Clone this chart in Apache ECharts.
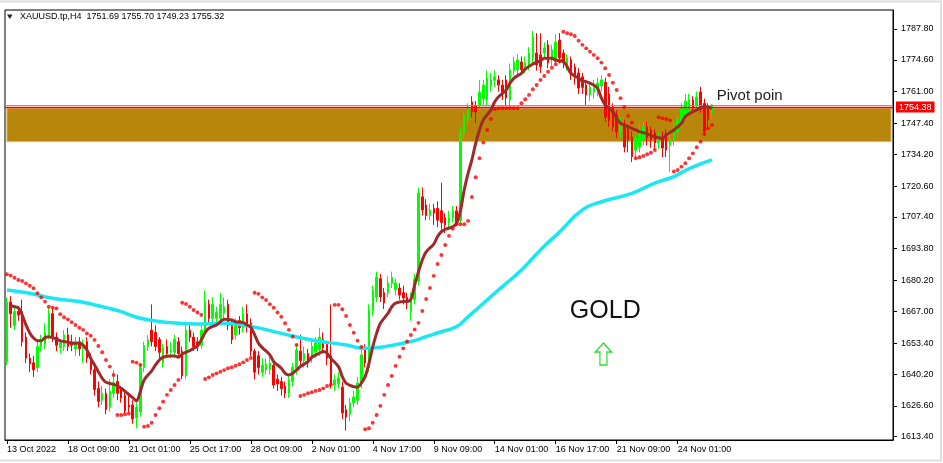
<!DOCTYPE html>
<html>
<head>
<meta charset="utf-8">
<script src="https://cdn.jsdelivr.net/npm/echarts/dist/echarts.min.js"></script>
<style>html,body{margin:0;padding:0;background:#fff;}#chart{width:943px;height:463px;}</style>
</head>
<body>
<div id="chart"></div>
<script>
// ---------- DATA ----------
const SYMBOL_TITLE = 'XAUUSD.tp,H4  1751.69 1755.70 1749.23 1755.32';
const FIRST_LABEL = '13 Oct 2022';
const Y_TICKS = [1613.40,1626.60,1640.20,1653.40,1667.00,1680.20,1693.80,1707.40,1720.60,1734.20,1747.40,1761.00,1774.60,1787.80];

const opens = [1645.5,1671,1661,1667,1667,1656,1647,1645,1643,1652,
1653,1657,1666,1656,1651.5,1652,1657,1654,1651,1654,
1651,1654,1647,1642,1634,1629,1632,1626,1632,1637,
1634,1631,1627,1627,1621.5,1624,1643,1652,1659,1658,
1655,1645,1652,1649.5,1649.5,1654,1650,1639.5,1659,1656,
1654,1652.5,1658,1670,1664,1664,1664,1666,1670,1661,
1657,1663,1660,1666,1662,1650,1648,1641,1642,1642,
1644,1638,1637,1635,1632,1637,1642,1650,1646,1649,
1647,1649.5,1650.5,1655,1653,1648,1635.5,1636,1634.6,1625,
1623,1627.8,1629,1636,1651.8,1643,1667,1673,1681,1675,
1674.9,1679,1676.2,1677,1675,1673,1667,1672,1680,1716,
1712.5,1708,1711,1711,1710,1707,1704.8,1707,1710,1706,
1743,1749,1756.6,1755,1755.2,1758,1757.4,1763.5,1765.8,1766,
1763.8,1766,1757.4,1770,1770.3,1773.7,1771.6,1771.6,1775.4,1777.5,
1776.7,1777.5,1781,1774.5,1773.7,1783,1777.5,1772.4,1774.5,1771.5,
1769,1767.3,1763.8,1759.6,1760.8,1761.7,1763.4,1765,1760,1754.4,
1751,1743.8,1746.8,1745,1741.6,1735.8,1737.3,1740.3,1745.9,1744.6,
1743.3,1739,1741.6,1742.5,1738,1740.3,1743.8,1748,1751,1753.2,
1757.4,1755.3,1760.8,1756,1754,1751.69];

const closes = [1671,1666,1667,1665.5,1654,1647,1644.5,1642,1652,1655,
1658,1666,1656,1652.5,1653.5,1657,1652,1652.5,1654,1651,
1653,1647,1642,1633.5,1628.5,1632,1625,1633,1636.5,1632,
1630,1624.5,1626,1621,1626,1643,1652.5,1655,1654,1652,
1649.5,1651.5,1649,1650.5,1655,1649,1639.5,1659,1656,1652,
1652.5,1659,1671,1664,1670,1666.5,1670,1669,1661,1655,
1662,1660,1666,1661,1650,1641,1643,1644,1644.5,1645,
1635.5,1636,1634,1632,1637.5,1643,1650.5,1646,1649,1645,
1652,1653.5,1656,1651.5,1647,1636,1637.7,1638.5,1623.6,1621.8,
1627.8,1630.4,1636.4,1648.4,1645,1667.6,1676,1681.7,1673.2,1670.6,
1679.2,1681.6,1679.2,1674,1672.7,1670.6,1672.6,1680.8,1717.7,1710.4,
1708,1710.4,1709,1706,1705,1704,1707,1710,1705,1743.7,
1751,1754,1752.3,1752.3,1760.8,1763.8,1766.8,1766,1767.3,1763.8,
1760.8,1758.3,1770.3,1773.7,1774.5,1770.3,1773.3,1777.5,1784.4,1772.4,
1771.6,1779.7,1773.3,1778.8,1782.2,1775.4,1773.7,1775.4,1768.1,1766.8,
1762.5,1762.8,1759.6,1763,1763.8,1764.7,1766,1750,1748.5,1745.9,
1743.8,1747.6,1737.3,1740.3,1733.2,1741.6,1744.6,1745.9,1741.2,1740.3,
1739,1741.6,1736.9,1736,1740.5,1745.9,1748.9,1754,1757,1757.4,
1754,1758.7,1754.4,1744,1749,1755.32];

const lows = [1644,1660,1659,1663,1652,1645,1641,1639,1641,1650,
1651,1655,1654,1650,1649,1650,1650,1650,1648,1648,
1645,1645,1640,1631,1626,1627,1623,1624,1630,1629,
1628,1623.5,1623.8,1619,1617,1622,1641,1650,1652,1650,
1647,1643,1647,1647,1648,1647,1638,1638,1654,1650,
1650,1651,1656,1662,1662,1662,1663,1663,1659,1653,
1655,1657,1658,1658,1648,1638,1640,1639,1640,1640,
1634,1633,1631,1630,1630,1635,1640,1644,1643,1643,
1645,1647,1648,1649,1644,1634,1633,1634,1621,1616,
1620,1626,1627,1634,1643,1641,1665,1671,1671,1668,
1673,1677,1674,1672,1670,1668,1663,1670,1678,1708,
1706,1706,1704,1703,1702,1700.5,1702,1705,1704.5,1704.5,
1741,1747,1750,1747.5,1753,1755,1755,1761,1763,1761,
1757.4,1755,1754.5,1768,1768,1768,1769,1770,1773,1770,
1769,1775,1771,1772,1773,1773,1771,1770,1766,1764,
1760,1760,1755,1757,1758,1759,1761,1748,1746,1744,
1741,1741,1735,1735,1730.9,1733,1735,1738,1738,1737,
1736.5,1736.5,1733,1733,1726.6,1738,1741,1746,1749,1751,
1752,1753,1752,1742,1745.5,1749.23];

const highs = [1673,1673.5,1669,1669,1672,1658,1649,1648,1654,1657,
1662,1668.5,1668,1658,1655,1659,1660,1657,1656,1656,
1655,1656,1649,1644,1637,1635,1634,1638,1642,1640,
1635,1633,1631,1629,1628,1645,1654,1657,1670,1661,
1656,1653,1655,1654,1657,1656,1652,1662,1661,1658,
1656,1661,1676,1672,1673,1669,1675,1673,1672,1663,
1664,1665,1669,1670,1664,1651,1650,1647,1647,1648,
1646,1640,1639,1637,1640,1645,1653,1657,1652,1651,
1655,1656,1660,1658,1654,1670,1640,1641,1637,1627,
1630,1633,1639,1651,1653,1670,1678,1684,1683,1677,
1682,1684,1681,1679,1678,1675,1675,1683,1720,1720,
1715,1713,1713,1714,1722,1709,1710,1712,1712,1746,
1753,1756,1759,1757,1766,1766,1770,1769,1770,1768,
1766,1768,1773,1776,1777,1776,1776,1780,1787,1786,
1786,1782,1783,1781,1785.5,1786,1779,1777,1776,1773,
1771,1769,1766,1765,1766,1767,1768,1767,1763,1756,
1753,1750,1749,1747,1744,1744,1747,1748,1748,1746,
1745,1744,1744,1745,1743,1748,1751,1756,1760,1760,
1759,1761,1763,1758,1756,1755.70];

// Parabolic SAR dots, one per bar
const sarValues = [1682.9,1682.3,1681.4,1680.4,1680.0,1679.0,1678.0,1676.9,1674.8,1673.0,
1671.2,1669.0,1668.6,1668.3,1665.8,1664.5,1663.6,1662.4,1661.2,1660.0,
1659.1,1657.6,1656.6,1654.8,1652.2,1649.5,1646.2,1643.4,1639.8,1622.7,
1622.7,1623.0,1623.3,1645.5,1645.1,1644.1,1617.7,1618.0,1619.4,1622.7,
1625.6,1628.4,1631.3,1633.4,1635.5,1637.7,1670.7,1670.2,1669.0,1667.6,
1666.5,1665.5,1638.1,1638.8,1639.8,1640.5,1641.2,1641.9,1642.7,1643.1,
1643.8,1644.4,1645.2,1646.2,1647.1,1675.0,1674.5,1673.0,1671.9,1670.1,
1668.6,1666.5,1664.7,1661.9,1659.1,1656.2,1652.6,1630.8,1631.3,1632.0,
1632.4,1633.0,1633.4,1634.1,1635.1,1635.6,1669.8,1669.8,1667.9,1665.0,
1661.2,1657.9,1654.5,1651.8,1616.6,1617.0,1619.4,1622.7,1626.6,1631.3,
1635.5,1639.4,1643.7,1647.6,1651.2,1654.1,1656.9,1659.3,1662.1,1667.2,
1672.3,1677.0,1682.2,1687.3,1691.1,1695.4,1699.3,1702.3,1704.3,1704.3,
1704.3,1705.7,1715.9,1724.4,1732.5,1739.2,1744.6,1749.3,1753.5,1753.9,
1753.9,1753.9,1753.9,1753.9,1753.9,1756.0,1757.7,1759.6,1762.0,1763.8,
1766.0,1767.7,1769.5,1771.2,1772.7,1774.1,1786.6,1786.0,1785.5,1784.8,
1782.8,1781.0,1779.5,1778.1,1776.7,1775.3,1773.4,1771.0,1768.1,1764.8,
1761.7,1758.2,1754.3,1750.6,1747.7,1732.5,1732.9,1733.5,1734.2,1734.9,
1736.0,1750.0,1749.6,1749.3,1748.7,1726.8,1727.5,1728.9,1730.4,1732.5,
1734.6,1737.2,1739.6,1742.9,1745.3,1746.7];

// Fast moving average (brown), read at bar index
const maFastIdx = [1,2,3,4,5,6,7,8,9,10,11,13,14,15,16,17,19,20,21,22,23,24,25,26,28,29,30,31,33,34,35,36,38,39,40,41,43,44,45,46,48,49,50,51,52,53,55,56,57,59,60,62,63,64,65,66,67,69,70,72,73,74,76,77,79,80,82,83,84,85,87,88,89,91,92,93,94,95,96,97,98,100,101,102,104,105,106,107,108,109,110,112,113,114,115,117,118,119,120,121,122,123,124,125,127,128,129,131,132,133,135,136,138,140,141,143,144,146,147,148,150,151,152,154,155,156,157,159,160,161,163,164,166,168,170,172,173,175,177,178,180,182,183,185];
const maFastVal = [1669.5,1669,1668.5,1665.5,1661.2,1657.8,1655.6,1654.4,1654.4,1655.8,1656.2,1655.2,1654.4,1654.1,1653.8,1653.4,1653.4,1652.6,1650.5,1646.9,1644.1,1641.2,1638.4,1636.7,1635.8,1635.2,1634.1,1632.8,1630.1,1628.7,1632.7,1637.7,1641.6,1644.1,1646.2,1647.4,1647.9,1647.9,1647.4,1648.8,1650.2,1651.2,1652.2,1654.8,1657.9,1659.8,1661.2,1662.6,1663.6,1663.3,1662.6,1662.2,1661.2,1660.3,1657,1653.4,1651.5,1648.4,1645.5,1642.7,1640.5,1639.8,1641.9,1643.4,1645.5,1647.4,1649.1,1649.8,1649.1,1646.9,1643.4,1639.1,1636.3,1634.8,1634.6,1636.3,1639.1,1644.8,1651.9,1657.6,1661.9,1666.2,1669.0,1670.5,1671.2,1671.2,1672.2,1678.3,1684.0,1689.0,1692.5,1695.8,1699.0,1701.1,1702.1,1703.2,1704.7,1710,1719,1726,1731.8,1738.9,1744.6,1748.9,1753.2,1756.7,1758.8,1761.7,1764.6,1766.7,1768.8,1770.6,1772.8,1774.2,1775.3,1775.3,1774.5,1773.8,1771.7,1768.8,1766.7,1765.6,1765.3,1763.8,1762.4,1758.2,1755.3,1752.4,1749.6,1747.5,1746.0,1745.3,1743.9,1742.9,1741.7,1741.0,1742.5,1744.6,1747.5,1750.3,1752.4,1753.9,1754.6,1753.9];

// Slow moving average (cyan), read at bar index
const maSlowIdx = [0,6,12,19,26,30,35,43,50,57,64,72,80,89,94,99,106,110,114,118,121,124,129,135,140,145,151,156,164,170,175,179,185];
const maSlowVal = [1676.2,1674.8,1672.6,1671.2,1668.6,1666.9,1664.1,1662.2,1661.6,1661.9,1660.6,1657.6,1654.8,1652.6,1651.2,1651.9,1654.1,1656.2,1658.3,1660.5,1664.7,1669.0,1676.2,1684.7,1693.3,1701.0,1710.4,1713.9,1717.5,1721.9,1724.6,1728.1,1731.8];

// Horizontal objects
const zoneTop = 1753.9, zoneBottom = 1739.6;
const redLevel = 1754.38;
const bidLevel = 1755.32;
const pivotText = 'Pivot poin';
const goldText = 'GOLD';

// ---------- TIME CATEGORIES (H4 bars, 6 per trading day) ----------
const MONTHS = ['Jan','Feb','Mar','Apr','May','Jun','Jul','Aug','Sep','Oct','Nov','Dec'];
const H4_HOURS = [1,5,9,13,17,21];
const TOTAL_SLOTS = 233;
const times = [];
(function(){
  let d = new Date(Date.UTC(2022, 9, 13));
  let h = 4;
  while (times.length < TOTAL_SLOTS) {
    const dow = d.getUTCDay();
    if (dow !== 0 && dow !== 6) {
      for (; h < 6 && times.length < TOTAL_SLOTS; h++) {
        times.push(d.getUTCDate() + ' ' + MONTHS[d.getUTCMonth()] + ' ' + String(H4_HOURS[h]).padStart(2,'0') + ':00');
      }
    }
    h = 0;
    d = new Date(d.getTime() + 86400000);
  }
})();
const LAST = opens.length - 1;

const candleData = opens.map((o, i) => [o, closes[i], lows[i], highs[i]]);
const sarData = sarValues.map((v, i) => [i, v]);
const fastData = maFastIdx.map((ix, k) => [ix, maFastVal[k]]);
const slowData = maSlowIdx.map((ix, k) => [ix, maSlowVal[k]]);

const FONT = 'Liberation Sans, Arial, sans-serif';
const showLabel = (i) => i % 16 === 0 && i <= LAST;

const chart = echarts.init(document.getElementById('chart'), null, {renderer: 'canvas'});
chart.setOption({
  animation: false,
  backgroundColor: '#fff',
  grid: {left: 5, right: 50, top: 10, bottom: 23, show: true, borderColor: '#000', borderWidth: 1, backgroundColor: '#fff'},
  xAxis: {
    type: 'category', data: times, boundaryGap: true,
    axisLine: {show: true, lineStyle: {color: '#000', width: 1}},
    axisTick: {show: true, alignWithLabel: true, interval: showLabel, length: 4, lineStyle: {color: '#000'}},
    axisLabel: {interval: showLabel, formatter: (v, i) => i === 0 ? FIRST_LABEL : v,
      align: 'left', margin: 5, fontSize: 9, color: '#000', fontFamily: FONT},
    splitLine: {show: false}
  },
  yAxis: {
    type: 'value', position: 'right', min: 1612.0, max: 1795.9, scale: true,
    axisLine: {show: true, lineStyle: {color: '#000', width: 1}},
    axisTick: {show: true, length: 4, customValues: Y_TICKS, lineStyle: {color: '#000'}},
    axisLabel: {customValues: Y_TICKS, formatter: (v) => v.toFixed(2), margin: 8, fontSize: 9, color: '#000', fontFamily: FONT},
    splitLine: {show: false}
  },
  graphic: [
    {type: 'rect', silent: true, z: -10, shape: {x: -2, y: 1.5, width: 943, height: 459}, style: {fill: 'none', stroke: '#dedede', lineWidth: 2}},
    {type: 'polygon', silent: true, shape: {points: [[7, 14.5], [12.5, 14.5], [9.75, 19]]}, style: {fill: '#222'}},
    {type: 'text', silent: true, left: 20, top: 12, style: {text: SYMBOL_TITLE, font: '9px ' + FONT, fill: '#000'}}
  ],
  series: [
    {
      name: 'zone', type: 'line', z: 1, silent: true, data: closes.map((c, i) => [i, c]),
      symbol: 'none', lineStyle: {opacity: 0}, tooltip: {show: false},
      markArea: {silent: true, itemStyle: {color: '#B8860B', borderColor: '#DDBA70', borderWidth: 1},
        data: [[{coord: [times[0], zoneTop]}, {coord: [times[TOTAL_SLOTS - 1], zoneBottom]}]]}
    },
    {
      name: 'price', type: 'candlestick', z: 3, data: candleData, barWidth: 2,
      itemStyle: {color: '#00FF00', color0: '#FF0000', borderColor: '#00FF00', borderColor0: '#FF0000', borderWidth: 1}
    },
    {
      name: 'maSlow', type: 'line', z: 4, data: slowData, smooth: true, symbol: 'none',
      lineStyle: {color: '#1BE7F2', width: 3.5}
    },
    {
      name: 'maFast', type: 'line', z: 5, data: fastData, smooth: 0.3, symbol: 'none',
      lineStyle: {color: '#A02A2A', width: 3}
    },
    {
      name: 'sar', type: 'scatter', z: 6, data: sarData, symbol: 'circle', symbolSize: 3.9,
      itemStyle: {color: '#FF0000'},
      markLine: {silent: true, symbol: ['none', 'none'],
        data: [
          {yAxis: bidLevel, lineStyle: {color: '#8C9DB2', width: 1, type: 'solid'}, label: {show: false}},
          {yAxis: redLevel, lineStyle: {color: '#FF0000', width: 1.3, type: 'solid'},
            label: {show: true, position: 'end', distance: 3, formatter: () => redLevel.toFixed(2),
              backgroundColor: '#FF0000', color: '#fff', padding: [1, 3, 1, 3], fontSize: 9, fontFamily: FONT}}
        ]},
      markPoint: {silent: true,
        data: [
          {coord: [times[157], 1667.2], symbolSize: 0,
            label: {show: true, formatter: goldText, position: 'inside', fontSize: 25, color: '#111', fontFamily: FONT}},
          {coord: [times[186], 1759.2], symbolSize: 0,
            label: {show: true, formatter: pivotText, position: 'right', distance: 1, fontSize: 15, color: '#222', fontFamily: FONT}},
          {coord: [times[156], 1648.8], symbol: 'path://M8,0 L16,9 L11.5,9 L11.5,22 L4.5,22 L4.5,9 L0,9 Z',
            symbolSize: [16, 22], symbolOffset: [2, 0], symbolKeepAspect: false,
            itemStyle: {color: 'rgba(255,255,255,0)', borderColor: '#2FD82F', borderWidth: 1.4},
            label: {show: false}}
        ]}
    }
  ]
});
</script>
</body>
</html>
